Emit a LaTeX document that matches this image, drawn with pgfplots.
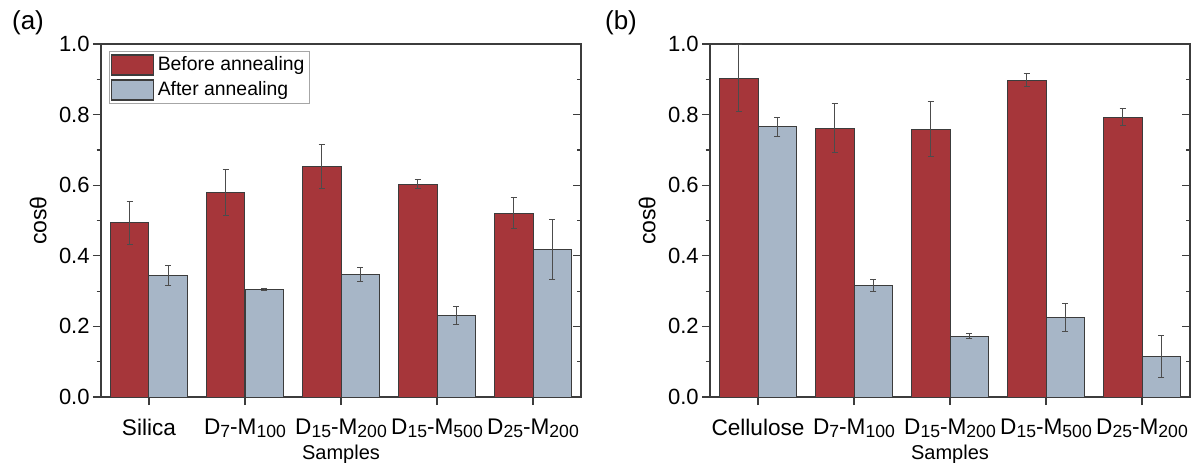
\documentclass[border=0pt]{standalone}
\usepackage{fontspec}
\setmainfont{Liberation Sans}
\usepackage{pgfplots}
\pgfplotsset{compat=1.18}

\definecolor{bred}{RGB}{166,54,58}
\definecolor{bblue}{RGB}{167,182,199}
\definecolor{edge}{RGB}{60,60,60}

% smaller, slightly lowered digits in the sample names
\newcommand\sub[1]{\raisebox{-0.25ex}{\fontsize{8.8}{10}\selectfont #1}}

\pgfplotsset{
  panel/.style={
    scale only axis, width=240pt, height=176.5pt, anchor=south west,
    xmin=-0.5, xmax=4.5, ymin=0, ymax=1,
    ybar, bar width=0.4,
    xtick={0,...,4}, ytick={0,0.2,...,1.0}, minor y tick num=1,
    xtick pos=left, ytick pos=left, tick align=outside,
    major tick length=4pt, minor tick length=2.2pt,
    axis line style={edge, line width=0.7pt},
    tick style={edge, line width=0.6pt},
    /pgf/number format/fixed, /pgf/number format/fixed zerofill,
    /pgf/number format/precision=1, /pgf/number format/assume math mode=true,
    every tick label/.append style={font=\fontsize{11}{13}\selectfont},
    y tick label style={inner sep=1.5pt},
    x tick label style={font=\fontsize{11.3}{13}\selectfont, yshift=-3.5pt},
    ylabel={cosθ},
    ylabel style={at={(axis description cs:-0.131,0.5)}, anchor=center, font=\fontsize{11.5}{13}\selectfont},
    xlabel={Samples},
    xlabel style={at={(axis description cs:0.5,0)}, yshift=-28.5pt, anchor=center, font=\fontsize{10}{12}\selectfont},
  },
  rticks/.style={
    scale only axis, width=240pt, height=176.5pt, anchor=south west,
    xmin=-0.5, xmax=4.5, ymin=0, ymax=1,
    axis x line=none, axis y line*=right, axis line style={draw=none},
    ytick={0,0.2,...,1.0}, minor y tick num=1, yticklabels={},
    tick align=inside, major tick length=4pt, minor tick length=2.2pt,
    tick style={edge, line width=0.6pt},
  },
  errb/.style={
    error bars/.cd, y dir=both, y explicit,
    error bar style={black!70, line width=0.5pt},
    error mark options={rotate=90, mark size=1.6pt, black!70, line width=0.5pt},
  },
  swatch/.style={legend image code/.code={\draw[fill=#1, draw=edge, line width=0.6pt] (0pt,-5pt) rectangle (21pt,5pt);}},
}

\begin{document}
\begin{tikzpicture}
\path[use as bounding box] (0,0) rectangle (599.5pt,231pt);

% (a) silica
\begin{axis}[panel, at={(50.5pt,32.5pt)},
  xticklabels={Silica, D\sub{7}-M\sub{100}, D\sub{15}-M\sub{200}, D\sub{15}-M\sub{500}, D\sub{25}-M\sub{200}},
  legend style={at={(0.017,0.98)}, anchor=north west, draw=black!35, fill=white,
    font=\fontsize{9.7}{11}\selectfont, inner sep=0.5pt, row sep=0pt},
  legend cell align=left]
\addlegendimage{swatch=bred}
\addlegendentry{Before annealing}
\addlegendimage{swatch=bblue}
\addlegendentry{After annealing}
\addplot[fill=bred, draw=edge, line width=0.5pt, bar shift=-0.2, errb] coordinates {
  (0,0.493) +- (0,0.060)
  (1,0.580) +- (0,0.065)
  (2,0.652) +- (0,0.062)
  (3,0.603) +- (0,0.012)
  (4,0.521) +- (0,0.045)
};
\addplot[fill=bblue, draw=edge, line width=0.5pt, bar shift=0.2, errb] coordinates {
  (0,0.345) +- (0,0.028)
  (1,0.305) +- (0,0.003)
  (2,0.346) +- (0,0.020)
  (3,0.230) +- (0,0.026)
  (4,0.418) +- (0,0.085)
};
\end{axis}
\begin{axis}[rticks, at={(50.5pt,32.5pt)}]
\end{axis}

% (b) cellulose
\begin{axis}[panel, at={(355pt,32.5pt)},
  xticklabels={Cellulose, D\sub{7}-M\sub{100}, D\sub{15}-M\sub{200}, D\sub{15}-M\sub{500}, D\sub{25}-M\sub{200}}]
\addplot[fill=bred, draw=edge, line width=0.5pt, bar shift=-0.2, errb] coordinates {
  (0,0.903) +- (0,0.095)
  (1,0.762) +- (0,0.070)
  (2,0.759) +- (0,0.079)
  (3,0.898) +- (0,0.018)
  (4,0.792) +- (0,0.024)
};
\addplot[fill=bblue, draw=edge, line width=0.5pt, bar shift=0.2, errb] coordinates {
  (0,0.765) +- (0,0.027)
  (1,0.316) +- (0,0.016)
  (2,0.172) +- (0,0.007)
  (3,0.226) +- (0,0.040)
  (4,0.115) +- (0,0.060)
};
\end{axis}
\begin{axis}[rticks, at={(355pt,32.5pt)}]
\end{axis}

\node[font=\fontsize{13}{15}\selectfont] at (14pt,219.5pt) {(a)};
\node[font=\fontsize{13}{15}\selectfont] at (310.5pt,219.5pt) {(b)};
\end{tikzpicture}
\end{document}
